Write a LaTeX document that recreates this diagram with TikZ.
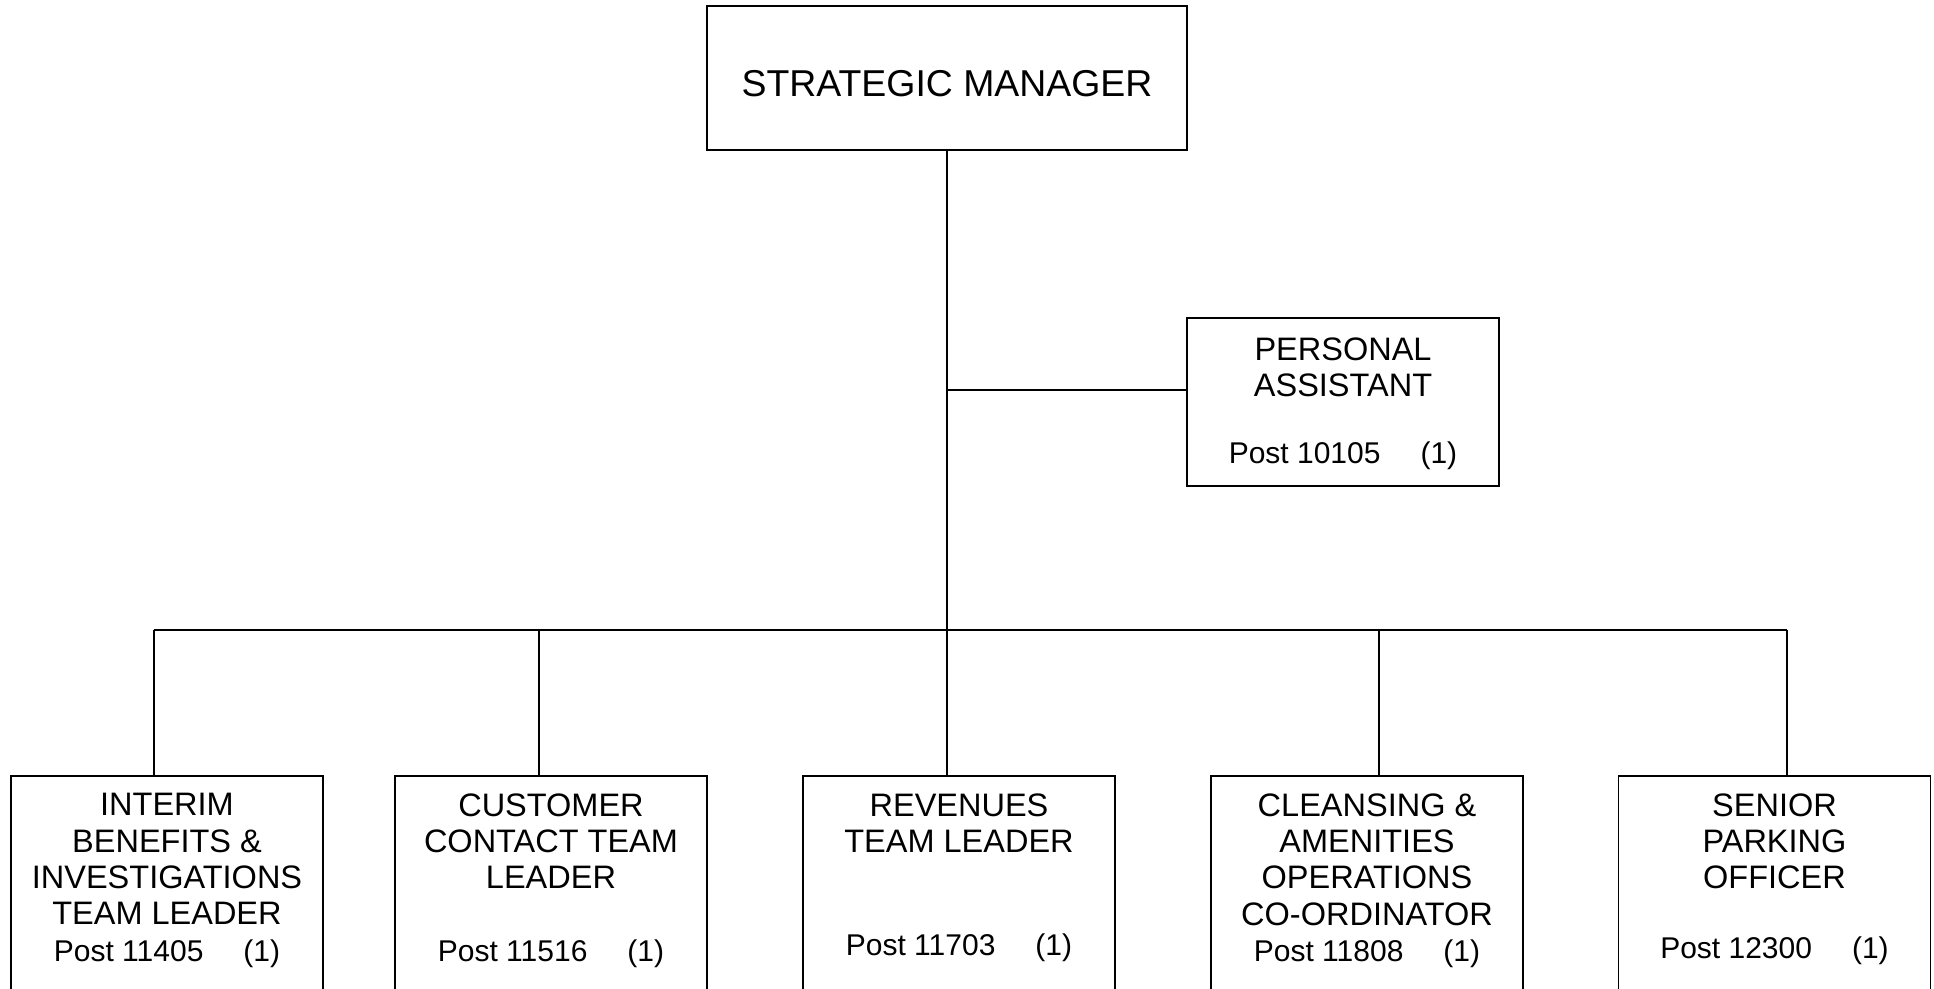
\documentclass[tikz,border=0pt]{standalone}
\usepackage{fontspec}
\setmainfont{Liberation Sans}
\usetikzlibrary{positioning}
\begin{document}
\begin{tikzpicture}[x=0.5pt,y=-0.5pt,line width=0.8pt]
\tikzstyle{post}=[rectangle,draw,inner sep=0pt,minimum width=156pt,minimum height=84pt]
\tikzstyle{job}=[post,minimum height=200pt,anchor=north]
\tikzstyle{title}=[align=center,inner sep=0pt,font=\fontsize{16.25}{18.2}\selectfont]
\tikzstyle{postno}=[inner sep=0pt,anchor=base,font=\fontsize{15}{18}\selectfont]
\clip (0,0) rectangle (1934,989);
\node[rectangle,draw,inner sep=0pt,minimum width=240pt,minimum height=72pt,text height=18.4pt,text depth=0pt,font=\fontsize{18.7}{22}\selectfont] (sm) at (947,78) {STRATEGIC MANAGER};
\node[post] (pa) at (1343,402) {};
\node[title,below=9.75pt of pa.north] (pat) {PERSONAL\\ASSISTANT};
\node[postno] (pan) at ([yshift=-73.3pt]pa.north) {Post 10105\hspace{20pt}(1)};
\node[job] (b1) at (167,775) {};
\node[title,below=8.8pt of b1.north] (b1t) {INTERIM\\BENEFITS \&\\INVESTIGATIONS\\TEAM LEADER};
\node[postno] (b1n) at ([yshift=-93.4pt]b1.north) {Post 11405\hspace{20pt}(1)};
\node[job] (b2) at (551,775) {};
\node[title,below=8.8pt of b2.north] (b2t) {CUSTOMER\\CONTACT TEAM\\LEADER};
\node[postno] (b2n) at ([yshift=-93.4pt]b2.north) {Post 11516\hspace{20pt}(1)};
\node[job] (b3) at (959,775) {};
\node[title,below=8.8pt of b3.north] (b3t) {REVENUES\\TEAM LEADER};
\node[postno] (b3n) at ([yshift=-90.3pt]b3.north) {Post 11703\hspace{20pt}(1)};
\node[job] (b4) at (1367,775) {};
\node[title,below=8.8pt of b4.north] (b4t) {CLEANSING \&\\AMENITIES\\OPERATIONS\\CO-ORDINATOR};
\node[postno] (b4n) at ([yshift=-93.4pt]b4.north) {Post 11808\hspace{20pt}(1)};
\node[job] (b5) at (1774.5,775) {};
\node[title,below=8.8pt of b5.north] (b5t) {SENIOR\\PARKING\\OFFICER};
\node[postno] (b5n) at ([yshift=-91.5pt]b5.north) {Post 12300\hspace{20pt}(1)};
\coordinate (pj) at (947,390);
\coordinate (j1) at (154,630);
\coordinate (j2) at (539,630);
\coordinate (j3) at (947,630);
\coordinate (j4) at (1379,630);
\coordinate (j5) at (1787,630);
\draw (sm.south) -- (j3);
\draw (pj) -- (pj -| pa.west);
\draw (j1) -- (j5);
\draw (j1) -- (j1 |- b1.north);
\draw (j2) -- (j2 |- b2.north);
\draw (j3) -- (j3 |- b3.north);
\draw (j4) -- (j4 |- b4.north);
\draw (j5) -- (j5 |- b5.north);
\end{tikzpicture}
\end{document}
